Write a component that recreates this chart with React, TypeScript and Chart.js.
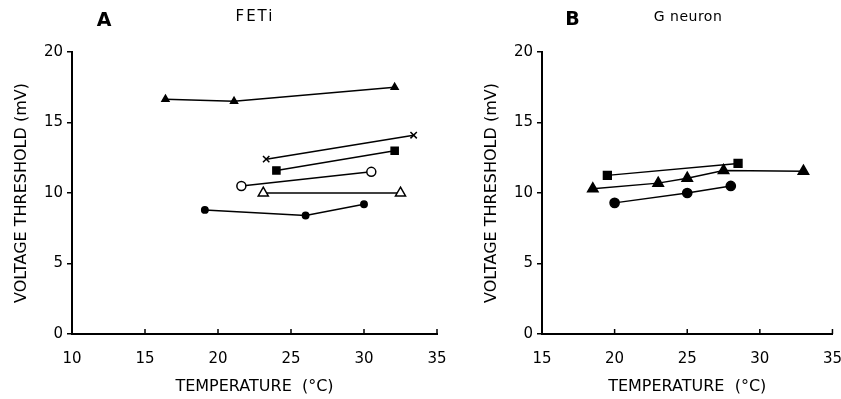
import React, { useEffect, useRef } from "react";
import { Chart, registerables } from "chart.js";
Chart.register(...registerables);

// ---------- tick values ----------
const yTickValues = [0, 5, 10, 15, 20];
const xTickValuesA = [10, 15, 20, 25, 30, 35];
const xTickValuesB = [15, 20, 25, 30, 35];

// ---------- text ----------
const yTitle = "VOLTAGE THRESHOLD (mV)";
const xTitle = "TEMPERATURE  (°C)";
const panelLetterA = "A";
const panelNameA = "FETi";
const panelLetterB = "B";
const panelNameB = "G neuron";

// ---------- Panel A (FETi) ----------
const aFilledTriX = [16.4, 21.1, 32.1];
const aFilledTriY = [16.65, 16.5, 17.5];
const aCrossX = [23.3, 33.4];
const aCrossY = [12.4, 14.1];
const aSquareX = [24.0, 32.1];
const aSquareY = [11.6, 13.0];
const aOpenCircleX = [21.6, 30.5];
const aOpenCircleY = [10.5, 11.5];
const aOpenTriX = [23.1, 32.5];
const aOpenTriY = [10.0, 10.0];
const aFilledCircleX = [19.1, 26.0, 30.0];
const aFilledCircleY = [8.8, 8.4, 9.2];

// ---------- Panel B (G neuron) ----------
const bSquareX = [19.5, 28.5];
const bSquareY = [11.25, 12.1];
const bTriX = [18.5, 23.0, 25.0, 27.5, 33.0];
const bTriY = [10.3, 10.7, 11.05, 11.6, 11.55];
const bCircleX = [20.0, 25.0, 28.0];
const bCircleY = [9.3, 10.0, 10.5];

const FONT = "DejaVu Sans";

function pts(xs: number[], ys: number[]) {
  return xs.map((x, i) => ({ x, y: ys[i] }));
}

function series(xs: number[], ys: number[], style: string, radius: number, filled: boolean) {
  return {
    data: pts(xs, ys),
    showLine: true,
    borderColor: "#000",
    borderWidth: 1.5,
    pointStyle: style,
    pointRadius: radius,
    pointHoverRadius: radius,
    pointBackgroundColor: filled ? "#000" : "#fff",
    pointBorderColor: "#000",
    pointBorderWidth: 1.5,
    clip: false,
  };
}

type LabelItem = { text: string; x: number; y: number; size: number; spacing: number; weight: string };

function makeConfig(datasets: any[], xTicks: number[], labels: LabelItem[], padRight: number) {
  const decor = {
    id: "decor",
    afterDraw(chart: any) {
      const ctx = chart.ctx;
      const xs = chart.scales.x;
      const bottom = chart.chartArea.bottom;
      ctx.save();
      ctx.strokeStyle = "#000";
      ctx.lineWidth = 1.5;
      xs.ticks.forEach((t: any) => {
        const px = xs.getPixelForValue(t.value);
        ctx.beginPath();
        ctx.moveTo(px, bottom);
        ctx.lineTo(px, bottom - 5);
        ctx.stroke();
      });
      ctx.fillStyle = "#000";
      ctx.textAlign = "center";
      ctx.textBaseline = "middle";
      labels.forEach((l) => {
        ctx.font = `${l.weight} ${l.size}px "${FONT}"`;
        (ctx as any).letterSpacing = `${l.spacing}px`;
        ctx.fillText(l.text, l.x, l.y);
      });
      ctx.restore();
    },
  };
  return {
    type: "scatter",
    data: { datasets },
    plugins: [decor],
    options: {
      responsive: false,
      animation: false,
      events: [],
      layout: { padding: { top: 52, right: padRight, bottom: 0, left: 0 } },
      plugins: { legend: { display: false }, tooltip: { enabled: false } },
      scales: {
        x: {
          type: "linear",
          min: xTicks[0],
          max: xTicks[xTicks.length - 1],
          ticks: { stepSize: 5, color: "#000", font: { family: FONT, size: 15 }, padding: 8 },
          grid: { display: false },
          border: { display: true, color: "#000", width: 2 },
          title: {
            display: true,
            text: xTitle,
            color: "#000",
            font: { family: FONT, size: 16 },
            padding: { top: 0, bottom: 3 },
          },
          afterFit: (s: any) => {
            s.height = 65;
          },
        },
        y: {
          type: "linear",
          min: yTickValues[0],
          max: yTickValues[yTickValues.length - 1],
          ticks: { stepSize: 5, color: "#000", font: { family: FONT, size: 15 }, padding: 4 },
          grid: {
            display: true,
            drawOnChartArea: false,
            drawTicks: true,
            tickLength: 5,
            color: "#000",
            lineWidth: 1.5,
          },
          border: { display: true, color: "#000", width: 2 },
          title: {
            display: true,
            text: yTitle,
            color: "#000",
            font: { family: FONT, size: 16 },
            padding: { top: 12, bottom: 0 },
          },
          afterFit: (s: any) => {
            s.width = 72;
          },
        },
      },
    },
  };
}

function Panel({ config, left, width }: { config: any; left: number; width: number }) {
  const ref = useRef<HTMLCanvasElement | null>(null);
  useEffect(() => {
    if (!ref.current) return;
    const chart = new Chart(ref.current, config);
    return () => chart.destroy();
  }, []);
  return (
    <canvas
      ref={ref}
      width={width}
      height={399}
      style={{ position: "absolute", left, top: 0, width, height: 399 }}
    />
  );
}

export default function App() {
  const datasetsA = [
    series(aFilledTriX, aFilledTriY, "triangle", 4, true),
    series(aCrossX, aCrossY, "crossRot", 4.5, true),
    series(aSquareX, aSquareY, "rect", 5, true),
    series(aOpenCircleX, aOpenCircleY, "circle", 4.5, false),
    series(aOpenTriX, aOpenTriY, "triangle", 5.8, false),
    series(aFilledCircleX, aFilledCircleY, "circle", 3.2, true),
  ];
  const datasetsB = [
    series(bSquareX, bSquareY, "rect", 5.5, true),
    series(bTriX, bTriY, "triangle", 6, true),
    series(bCircleX, bCircleY, "circle", 4.6, true),
  ];
  const configA = makeConfig(
    datasetsA,
    xTickValuesA,
    [
      { text: panelLetterA, x: 104, y: 21.5, size: 19, spacing: 0, weight: "bold" },
      { text: panelNameA, x: 255, y: 17.5, size: 15, spacing: 2, weight: "normal" },
    ],
    33
  );
  const configB = makeConfig(
    datasetsB,
    xTickValuesB,
    [
      { text: panelLetterB, x: 102.5, y: 20, size: 19, spacing: 0, weight: "bold" },
      { text: panelNameB, x: 218, y: 17.7, size: 14, spacing: 0.5, weight: "normal" },
    ],
    17
  );
  return (
    <div
      style={{
        position: "absolute",
        left: 0,
        top: 0,
        width: 841,
        height: 399,
        overflow: "hidden",
        background: "#fff",
      }}
    >
      <Panel config={configA} left={0} width={470} />
      <Panel config={configB} left={470} width={380} />
    </div>
  );
}
